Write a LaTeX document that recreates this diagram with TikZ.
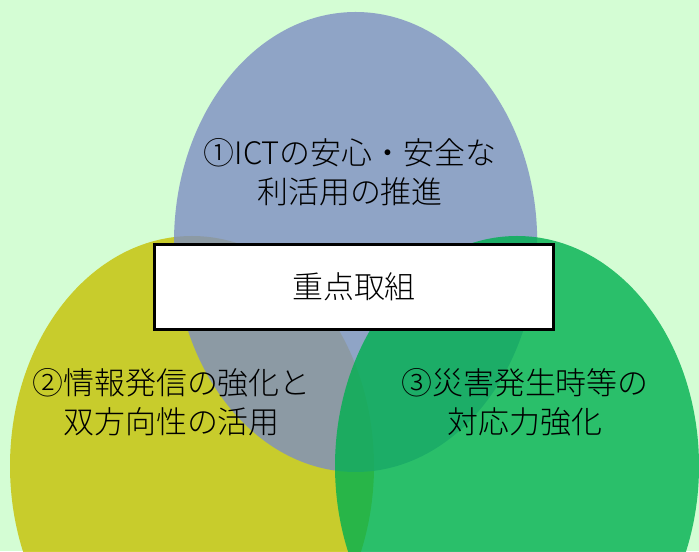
\documentclass[tikz,border=0pt]{standalone}
\usepackage{fontspec}
\setmainfont{Noto Sans CJK JP Light}
\usepackage{tikz}

\definecolor{bggreen}{RGB}{212,253,212}
\definecolor{topblue}{RGB}{126,142,195}
\definecolor{leftolive}{RGB}{198,192,2}
\definecolor{rightgreen}{RGB}{0,176,80}

\tikzset{
    area/.style={fill opacity=.8, draw=none},
    label/.style={align=center, font=\fontsize{22}{27.6}\selectfont},
}

\begin{document}
\begin{tikzpicture}[>=latex]
            %背景
            \fill[bggreen] (0, 0) rectangle (17.475, 13.775);
            \useasboundingbox (0, 0) rectangle (17.475, 13.775);
            \clip (0, 0) rectangle (17.475, 13.775);
            %(中心) ellipse (横半径 and 纵半径)
            \fill[area, leftolive] (4.8, 2.125) ellipse (4.55 and 5.75);
            \fill[area, topblue] (8.89, 7.725) ellipse (4.54 and 5.75);
            \fill[area, rightgreen] (12.925, 2.125) ellipse (4.55 and 5.75);

            \node[label] (ict) at (8.75, 9.46) {①ICTの安心・安全な\\利活用の推進};
            \node[label] (info) at (4.29, 3.71) {②情報発信の強化と\\双方向性の活用};
            \node[label] (disaster) at (13.125, 3.71) {③災害発生時等の\\対応力強化};

            %中央の枠
            \node[draw, line width=2.1pt, fill=white, minimum width=9.975cm,
                minimum height=2.125cm, label] (focus) at (8.85, 6.6) {重点取組};
        \end{tikzpicture}
\end{document}
